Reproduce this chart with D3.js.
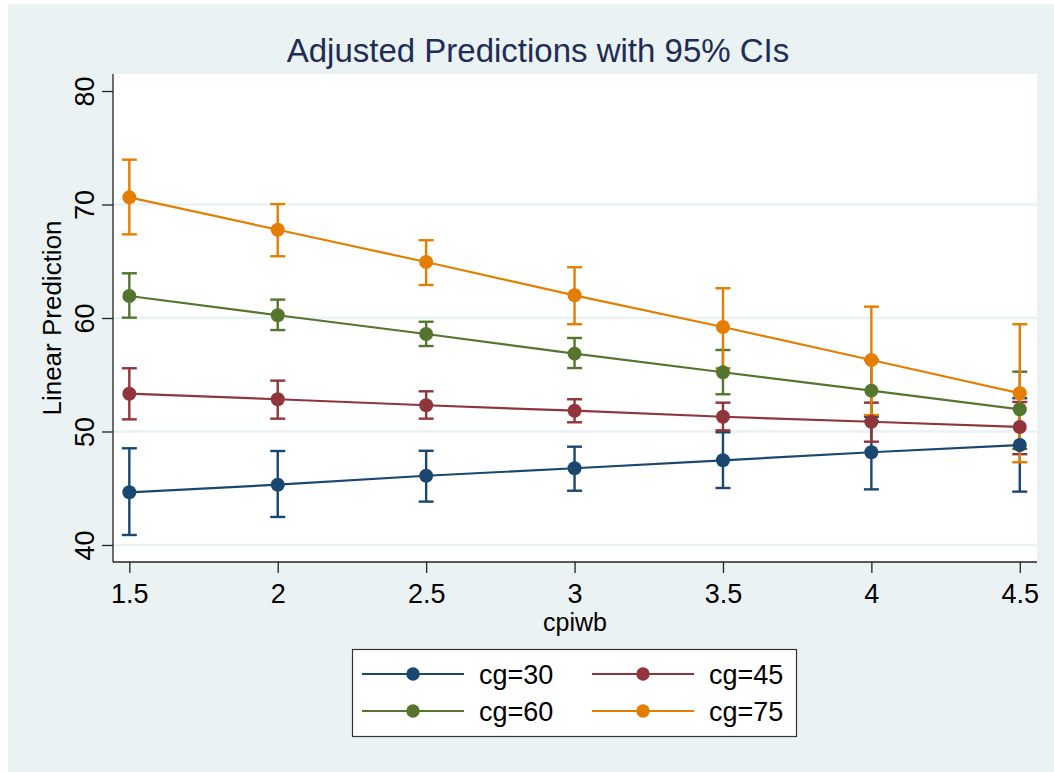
<!DOCTYPE html>
<html>
<head>
<meta charset="utf-8">
<title>Adjusted Predictions</title>
<script src="https://cdn.jsdelivr.net/npm/d3@7/dist/d3.min.js"></script>
<style>
html,body{margin:0;padding:0;background:#fff;}
svg text{font-family:"Liberation Sans",Arial,sans-serif;}
</style>
</head>
<body>
<script>
// x values (cpiwb)
var xVals=[1.5,2,2.5,3,3.5,4,4.5];
var xTicks=[1.5,2,2.5,3,3.5,4,4.5];
var yTicks=[40,50,60,70,80];
var yGrid=[40,50,60,70];

var seriesNames=["cg=30","cg=45","cg=60","cg=75"];
var seriesColors=["#1a476f","#90353b","#55752f","#e37e00"];

// predictions
var cg30=[44.64,45.31,46.10,46.76,47.46,48.17,48.81];
var cg45=[53.33,52.84,52.31,51.83,51.30,50.86,50.40];
var cg60=[61.94,60.24,58.59,56.86,55.22,53.60,51.96];
var cg75=[70.63,67.78,64.93,62.00,59.21,56.30,53.37];
// lower 95% CI
var cg30lo=[40.88,42.47,43.82,44.78,45.02,44.90,44.70];
var cg45lo=[51.07,51.13,51.13,50.81,50.10,49.10,48.00];
var cg60lo=[60.03,58.94,57.53,55.59,53.28,50.90,48.46];
var cg75lo=[67.37,65.44,62.91,59.45,55.57,51.45,47.29];
// upper 95% CI
var cg30hi=[48.52,48.28,48.30,48.66,49.93,51.30,52.93];
var cg45hi=[55.57,54.48,53.54,52.84,52.54,52.54,52.60];
var cg60hi=[63.94,61.62,59.67,58.24,57.18,56.30,55.27];
var cg75hi=[73.95,70.04,66.85,64.47,62.62,61.00,59.45];

var means=[cg30,cg45,cg60,cg75];
var lows=[cg30lo,cg45lo,cg60lo,cg75lo];
var highs=[cg30hi,cg45hi,cg60hi,cg75hi];

var W=1054,H=772;
var plot={left:113,right:1037,top:74,bottom:562};

var svg=d3.select("body").append("svg")
	.attr("width",W)
	.attr("height",H);

svg.append("rect")
	.attr("x",8).attr("y",4)
	.attr("width",W-8).attr("height",H-4)
	.attr("fill","#eaf2f3");

svg.append("rect")
	.attr("x",plot.left).attr("y",plot.top)
	.attr("width",plot.right-plot.left).attr("height",plot.bottom-plot.top)
	.attr("fill","#fff");

var x=d3.scaleLinear().domain([1.445,4.558]).range([plot.left,plot.right]);
var y=d3.scaleLinear().domain([38.5,81.5]).range([plot.bottom,plot.top]);

// grid
svg.append("g").selectAll("line")
	.data(yGrid).enter().append("line")
	.attr("x1",plot.left).attr("x2",plot.right)
	.attr("y1",d=>y(d)).attr("y2",d=>y(d))
	.attr("stroke","#eaf2f3").attr("stroke-width",2.5);

// axes
var xAxis=d3.axisBottom(x).tickValues(xTicks).tickSize(11).tickPadding(4)
	.tickFormat(d=>d3.format("")(d));
var gx=svg.append("g")
	.attr("transform","translate(0,"+plot.bottom+")")
	.call(xAxis);
gx.select(".domain").attr("d","M"+plot.left+",0H"+plot.right).attr("stroke","#222").attr("stroke-width",1.3);
gx.selectAll(".tick line").attr("stroke","#222").attr("stroke-width",1.3);
gx.selectAll(".tick text").attr("font-size",27).attr("fill","#000")
	.attr("font-family","Liberation Sans, Arial, sans-serif").attr("dy","0.95em");

var yAxis=d3.axisLeft(y).tickValues(yTicks).tickSize(11).tickFormat(d3.format("d"));
var gy=svg.append("g")
	.attr("transform","translate("+plot.left+",0)")
	.call(yAxis);
gy.select(".domain").attr("d","M0,"+plot.bottom+"V"+plot.top).attr("stroke","#222").attr("stroke-width",1.3);
gy.selectAll(".tick line").attr("stroke","#222").attr("stroke-width",1.3);
gy.selectAll(".tick text")
	.attr("font-size",27).attr("fill","#000")
	.attr("font-family","Liberation Sans, Arial, sans-serif")
	.attr("x",null).attr("dy",null)
	.attr("text-anchor","middle")
	.attr("transform","translate(-19,0) rotate(-90)");

// titles
svg.append("text")
	.attr("x",538).attr("y",62)
	.attr("text-anchor","middle")
	.attr("font-size",33)
	.attr("fill","#1f2d56")
	.text("Adjusted Predictions with 95% CIs");

svg.append("text")
	.attr("x",(plot.left+plot.right)/2).attr("y",631)
	.attr("text-anchor","middle")
	.attr("font-size",25)
	.attr("fill","#000")
	.text("cpiwb");

svg.append("text")
	.attr("transform","translate(61,"+((plot.top+plot.bottom)/2)+") rotate(-90)")
	.attr("text-anchor","middle")
	.attr("font-size",26)
	.attr("fill","#000")
	.text("Linear Prediction");

// confidence intervals
var capW=7.5;
means.forEach(function(m,s){
	var g=svg.append("g").attr("stroke",seriesColors[s]).attr("stroke-width",2.4);
	var idx=d3.range(xVals.length);
	g.selectAll(".ci").data(idx).enter().append("line")
		.attr("x1",i=>x(xVals[i])).attr("x2",i=>x(xVals[i]))
		.attr("y1",i=>y(lows[s][i])).attr("y2",i=>y(highs[s][i]));
	g.selectAll(".caplo").data(idx).enter().append("line")
		.attr("x1",i=>x(xVals[i])-capW).attr("x2",i=>x(xVals[i])+capW)
		.attr("y1",i=>y(lows[s][i])).attr("y2",i=>y(lows[s][i]));
	g.selectAll(".caphi").data(idx).enter().append("line")
		.attr("x1",i=>x(xVals[i])-capW).attr("x2",i=>x(xVals[i])+capW)
		.attr("y1",i=>y(highs[s][i])).attr("y2",i=>y(highs[s][i]));
});

// lines + markers
var line=d3.line().x((d,i)=>x(xVals[i])).y(d=>y(d));
means.forEach(function(m,s){
	svg.append("path").datum(m)
		.attr("d",line)
		.attr("fill","none")
		.attr("stroke",seriesColors[s])
		.attr("stroke-width",2.2);
	svg.append("g").selectAll("circle").data(m).enter().append("circle")
		.attr("cx",(d,i)=>x(xVals[i]))
		.attr("cy",d=>y(d))
		.attr("r",7)
		.attr("fill",seriesColors[s]);
});

// legend
var leg=svg.append("g");
leg.append("rect")
	.attr("x",352.5).attr("y",649.5)
	.attr("width",444).attr("height",87)
	.attr("fill","#fff").attr("stroke","#333").attr("stroke-width",1.2);
var legItems=leg.selectAll(".item").data(seriesNames).enter().append("g")
	.attr("transform",(d,i)=>"translate("+(362+(i%2)*230)+","+(674+Math.floor(i/2)*37)+")");
legItems.append("line")
	.attr("x1",0).attr("x2",102).attr("y1",0).attr("y2",0)
	.attr("stroke",(d,i)=>seriesColors[i]).attr("stroke-width",2.2);
legItems.append("circle")
	.attr("cx",51).attr("cy",0).attr("r",6.7)
	.attr("fill",(d,i)=>seriesColors[i]);
legItems.append("text")
	.attr("x",117).attr("y",10)
	.attr("font-size",27).attr("fill","#000")
	.text(d=>d);
</script>
</body>
</html>
